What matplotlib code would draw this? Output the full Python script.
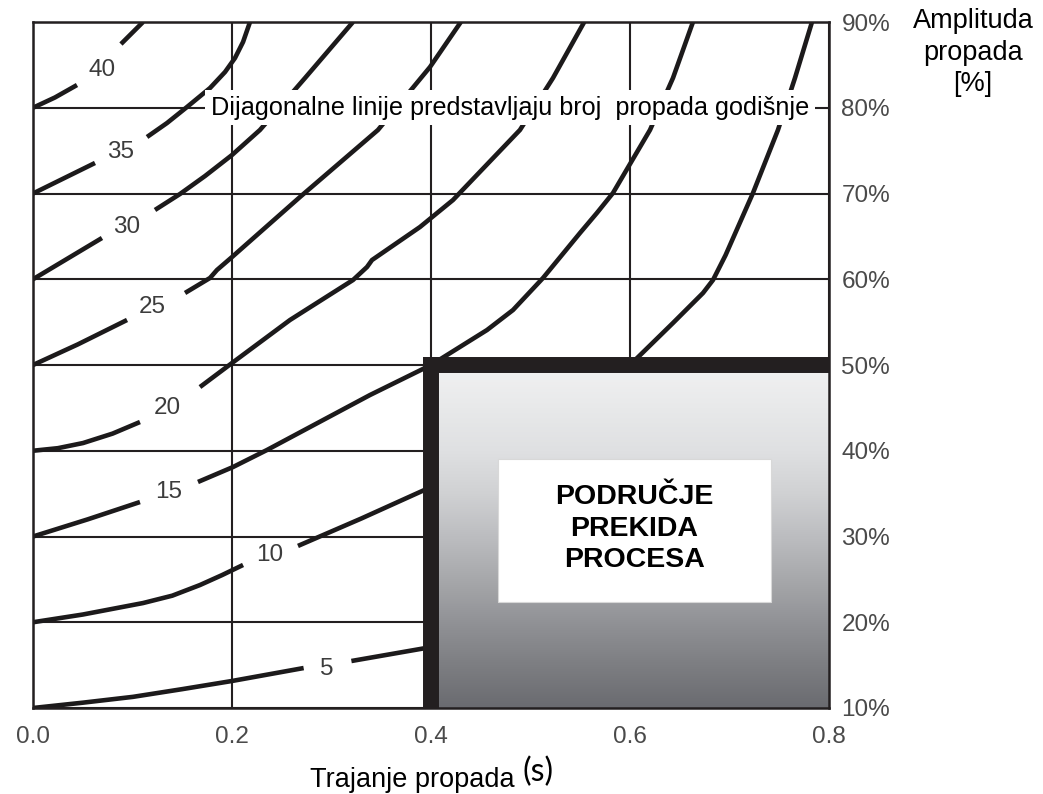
import numpy as np
import matplotlib
matplotlib.use("Agg")
import matplotlib.pyplot as plt
from matplotlib.colors import LinearSegmentedColormap
from matplotlib.patches import Rectangle

plt.rcParams['font.family'] = ['Liberation Sans', 'DejaVu Sans']

# Krivulje: broj propada godisnje (trajanje [s], amplituda [%])
oznake = ['5', '10', '15', '20', '25', '30', '35', '40']

k5_x = [0.0, 0.05, 0.1005, 0.15, 0.2, 0.272, 0.320, 0.4]
k5_y = [10.0, 10.62, 11.3, 12.2, 13.15, 14.66, 15.48, 17.1]

k10_x = [0.0, 0.05, 0.1106, 0.14, 0.1678, 0.19, 0.2111, 0.2663, 0.33, 0.4, 0.6,
         0.6432, 0.6734, 0.6834, 0.696, 0.7236, 0.7487, 0.7658, 0.7829]
k10_y = [20.0, 20.9, 22.24, 23.1, 24.34, 25.5, 26.68, 28.9, 32.1, 35.77, 50.0,
         54.90, 58.40, 59.91, 62.8, 70.06, 77.41, 83.47, 90.0]

k15_x = [0.0, 0.055, 0.1075, 0.1658, 0.201, 0.2352, 0.2854, 0.3387, 0.4, 0.4563,
         0.4824, 0.5126, 0.5497, 0.5668, 0.5829, 0.6201, 0.6432, 0.6633]
k15_y = [30.0, 32.0, 34.02, 36.36, 38.10, 40.09, 43.2, 46.5, 50.0, 54.08,
         56.41, 60.15, 65.39, 67.74, 70.06, 77.41, 83.47, 90.0]

k20_x = [0.0, 0.025, 0.0503, 0.08, 0.1075, 0.1678, 0.2, 0.2583, 0.3216, 0.3357,
         0.3407, 0.3889, 0.4221, 0.4894, 0.5226, 0.554]
k20_y = [40.0, 40.3, 40.9, 42.0, 43.35, 47.43, 50.23, 55.25, 59.91, 61.43,
         62.24, 66.09, 69.24, 77.41, 83.47, 90.0]

k25_x = [0.0, 0.045, 0.0945, 0.1528, 0.1779, 0.1849, 0.2, 0.2683, 0.3467, 0.399, 0.430]
k25_y = [50.0, 52.4, 55.25, 58.40, 60.15, 61.08, 62.59, 69.59, 77.41, 84.75, 90.0]

k30_x = [0.0, 0.0693, 0.1226, 0.1477, 0.1729, 0.2, 0.2281, 0.2734, 0.3216]
k30_y = [60.0, 64.81, 68.08, 69.94, 72.04, 74.49, 77.41, 83.47, 90.0]

k35_x = [0.0, 0.0623, 0.1146, 0.1347, 0.1548, 0.1779, 0.193, 0.203, 0.2111, 0.2181]
k35_y = [70.0, 73.56, 76.59, 78.22, 80.09, 82.30, 84.17, 85.80, 87.67, 90.0]

k40_x = [0.0, 0.0221, 0.0442, 0.0884, 0.1106]
k40_y = [80.0, 81.2, 82.65, 87.43, 90.0]

# indeks gdje je krivulja prekinuta zbog oznake
prekid = [6, 7, 3, 5, 3, 2, 2, 3]

# polozaj oznaka
oznaka_x = [0.2955, 0.238, 0.136, 0.135, 0.120, 0.0945, 0.0884, 0.0693]
oznaka_y = [14.5, 27.8, 35.2, 45.0, 56.8, 66.1, 74.8, 84.4]

# podrucje prekida procesa
prag_trajanje = 0.4
prag_amplituda = 50

x_ticks = [0.0, 0.2, 0.4, 0.6, 0.8]
y_ticks = [10, 20, 30, 40, 50, 60, 70, 80, 90]

krivulje = [(k5_x, k5_y), (k10_x, k10_y), (k15_x, k15_y), (k20_x, k20_y),
            (k25_x, k25_y), (k30_x, k30_y), (k35_x, k35_y), (k40_x, k40_y)]

crna = '#231f20'

fig = plt.figure(figsize=(10.43, 7.94), dpi=100)
ax = fig.add_axes([33/1043, 1 - 708/794, 796/1043, 686/794])

# krivulje
for (kx, ky), p in zip(krivulje, prekid):
    for sx, sy in ((kx[:p], ky[:p]), (kx[p:], ky[p:])):
        ax.plot(sx, sy, color='#1c1a1b', lw=3.3, zorder=1,
                solid_capstyle='butt', solid_joinstyle='round')

for t, ox, oy in zip(oznake, oznaka_x, oznaka_y):
    ax.text(ox, oy, t, ha='center', va='center', fontsize=17.5, color='#3c3c3c', zorder=5)

# gradijent
boje = ['#6a6b70', '#7d7e82', '#919296', '#a7a8ab', '#bcbdc0',
        '#d0d1d3', '#dfe0e2', '#e8e9ea', '#f1f1f2']
cm = LinearSegmentedColormap.from_list('siva', boje)
grad = np.linspace(0, 1, 256).reshape(-1, 1)
ax.imshow(grad, extent=[prag_trajanje, 0.8, 10, prag_amplituda], aspect='auto',
          cmap=cm, origin='lower', zorder=2, interpolation='bilinear')

# debele granice
ax.plot([prag_trajanje, prag_trajanje], [10, prag_amplituda], color=crna, lw=11.5,
        solid_capstyle='projecting', zorder=3)
ax.plot([prag_trajanje, 0.8], [prag_amplituda, prag_amplituda], color=crna, lw=11.5,
        solid_capstyle='projecting', zorder=3)

# bijeli okvir s tekstom
ax.add_patch(Rectangle((0.467, 22.4), 0.275, 16.6, facecolor='white',
                       edgecolor='#d8d8d8', lw=0.8, zorder=4))
ax.text(0.6045, 30.9, 'PODRUČJE\nPREKIDA\nPROCESA', ha='center', va='center',
        fontsize=20.5, fontweight='bold', color='black', linespacing=1.28, zorder=5)

ax.text(0.4794, 80, 'Dijagonalne linije predstavljaju broj  propada godišnje',
        ha='center', va='center', fontsize=18.2, color='black', zorder=6,
        bbox=dict(facecolor='white', edgecolor='none', pad=4))

ax.set_xlim(0, 0.8)
ax.set_ylim(10, 90)
ax.yaxis.tick_right()
ax.set_xticks(x_ticks)
ax.set_xticklabels([f'{v:.1f}' for v in x_ticks])
ax.set_yticks(y_ticks)
ax.set_yticklabels([f'{v}%' for v in y_ticks])
ax.tick_params(axis='both', length=0, labelsize=17.5, labelcolor='#4a4a4a')
ax.tick_params(axis='x', pad=13)
ax.tick_params(axis='y', pad=9)
ax.grid(True, color=crna, lw=1.5)
ax.set_axisbelow(True)
for s in ax.spines.values():
    s.set_color(crna)
    s.set_linewidth(1.8)

# naslovi osi
t1 = ax.text(0.476, -0.1152, 'Trajanje propada', transform=ax.transAxes,
             ha='center', va='baseline', fontsize=19.5, color='black')
ax.annotate('(s)', xy=(1, 0), xycoords=t1, xytext=(6, 4), textcoords='offset points',
            ha='left', va='bottom', fontsize=23, color='black', family=['Lato', 'DejaVu Sans'])

fig.text(973/1043, 1 - 8/794, 'Amplituda\npropada\n[%]', ha='center', va='top',
         fontsize=19.5, color='black', linespacing=1.28)

fig.savefig('out.png', dpi=100)
